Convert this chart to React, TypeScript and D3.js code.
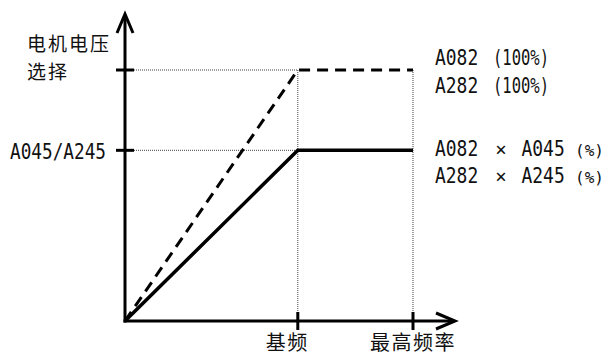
import React from "react";
import * as d3 from "d3";

// data
const freqs = [0, 60, 100]; // 0, base freq, max freq (% of max)
const fullVoltage = [0, 100, 100]; // A082 (100%) – dashed
const reducedVoltage = [0, 68, 68]; // A082 × A045 – solid
const xTickValues = [60, 100];
const xTickLabels = ["基频", "最高频率"];
const yTickValues = [100, 68];
const yTickLabels = ["", "A045/A245"];
const yTitle = ["电机电压", "选择"];
const rightLabelsTop = [
  ["A082", "(100%)"],
  ["A282", "(100%)"],
];
const rightLabelsBottom = [
  ["A082", "×", "A045", "(%)"],
  ["A282", "×", "A245", "(%)"],
];

const W = 605;
const H = 356;
const ox = 125;
const oy = 321;

export default function App() {
  const x = d3.scaleLinear().domain([0, 100]).range([ox, 413]);
  const y = d3.scaleLinear().domain([0, 100]).range([oy, 70]);
  const line = d3
    .line<number>()
    .x((_, i) => x(freqs[i]))
    .y((d) => y(d));

  const mono = "'DejaVu Sans Mono', monospace";
  const cjk = "'Noto Sans CJK SC', sans-serif";
  const u = 10.8;
  const textColor = "#111";

  const xEnd = 455;
  const yEnd = 14;

  return (
    <svg
      width={W}
      height={H}
      style={{ position: "absolute", left: 0, top: 0, background: "#fff" }}
    >
      <rect width={W} height={H} fill="#fff" />
      {/* guide dotted lines */}
      <g stroke="#444" strokeWidth={1} strokeDasharray="1,1" fill="none">
        <line x1={ox + 9} x2={x(60)} y1={y(100)} y2={y(100)} />
        <line x1={ox + 9} x2={x(60)} y1={y(68)} y2={y(68)} />
        <line x1={x(60)} x2={x(60)} y1={y(100)} y2={oy - 9} />
        <line x1={x(100)} x2={x(100)} y1={y(100)} y2={oy - 9} />
      </g>
      {/* series */}
      <path
        d={line(fullVoltage) || ""}
        fill="none"
        stroke="#000"
        strokeWidth={3}
        strokeDasharray="11,7"
      />
      <path
        d={line(reducedVoltage) || ""}
        fill="none"
        stroke="#000"
        strokeWidth={3.5}
      />
      {/* axes */}
      <g stroke="#000" strokeWidth={3} fill="none">
        <line x1={ox} x2={ox} y1={oy + 1.5} y2={yEnd + 1} />
        <line x1={ox - 1.5} x2={xEnd - 1} y1={oy} y2={oy} />
        <polyline points={`${ox - 8},33 ${ox},${yEnd} ${ox + 8},33`} />
        <polyline points={`436,${oy - 8} ${xEnd},${oy} 436,${oy + 8}`} />
        {yTickValues.map((v) => (
          <line key={v} x1={ox - 9} x2={ox + 9} y1={y(v)} y2={y(v)} />
        ))}
        {xTickValues.map((v) => (
          <line key={v} x1={x(v)} x2={x(v)} y1={oy - 9} y2={oy + 9} />
        ))}
      </g>
      {/* y title */}
      <g fontFamily={cjk} fontSize={19} fill={textColor} letterSpacing={2}>
        {yTitle.map((t, i) => (
          <text key={i} x={27} y={51 + i * 28}>
            {t}
          </text>
        ))}
      </g>
      {/* y tick labels */}
      {yTickValues.map((v, i) =>
        yTickLabels[i] ? (
          <text
            key={v}
            x={10}
            y={y(v) + 9}
            fontFamily={mono}
            fontSize={21}
            fill={textColor}
            textLength={96}
            lengthAdjust="spacingAndGlyphs"
          >
            {yTickLabels[i]}
          </text>
        ) : null
      )}
      {/* x tick labels */}
      <g fontFamily={cjk} fontSize={20} fill={textColor} letterSpacing={1.5}>
        <text x={x(xTickValues[0]) - 32} y={350}>
          {xTickLabels[0]}
        </text>
        <text x={x(xTickValues[1]) - 43} y={350}>
          {xTickLabels[1]}
        </text>
      </g>
      {/* right labels */}
      <g fontFamily={mono} fontSize={21} fill={textColor}>
        {rightLabelsTop.map((r, i) => (
          <g key={i}>
            <text
              x={435}
              y={65 + i * 28}
              textLength={4 * u}
              lengthAdjust="spacingAndGlyphs"
            >
              {r[0]}
            </text>
            <text
              x={493}
              y={65 + i * 28}
              textLength={56}
              lengthAdjust="spacingAndGlyphs"
            >
              {r[1]}
            </text>
          </g>
        ))}
        {rightLabelsBottom.map((r, i) => (
          <g key={i}>
            <text
              x={435}
              y={156 + i * 26.5}
              textLength={4 * u}
              lengthAdjust="spacingAndGlyphs"
            >
              {r[0]}
            </text>
            <text x={501} y={156 + i * 26.5} textAnchor="middle" fontSize={19}>
              {r[1]}
            </text>
            <text
              x={521.5}
              y={156 + i * 26.5}
              textLength={4 * u}
              lengthAdjust="spacingAndGlyphs"
            >
              {r[2]}
            </text>
            <text x={575} y={156 + i * 26.5} fontSize={16}>
              {r[3]}
            </text>
          </g>
        ))}
      </g>
    </svg>
  );
}
